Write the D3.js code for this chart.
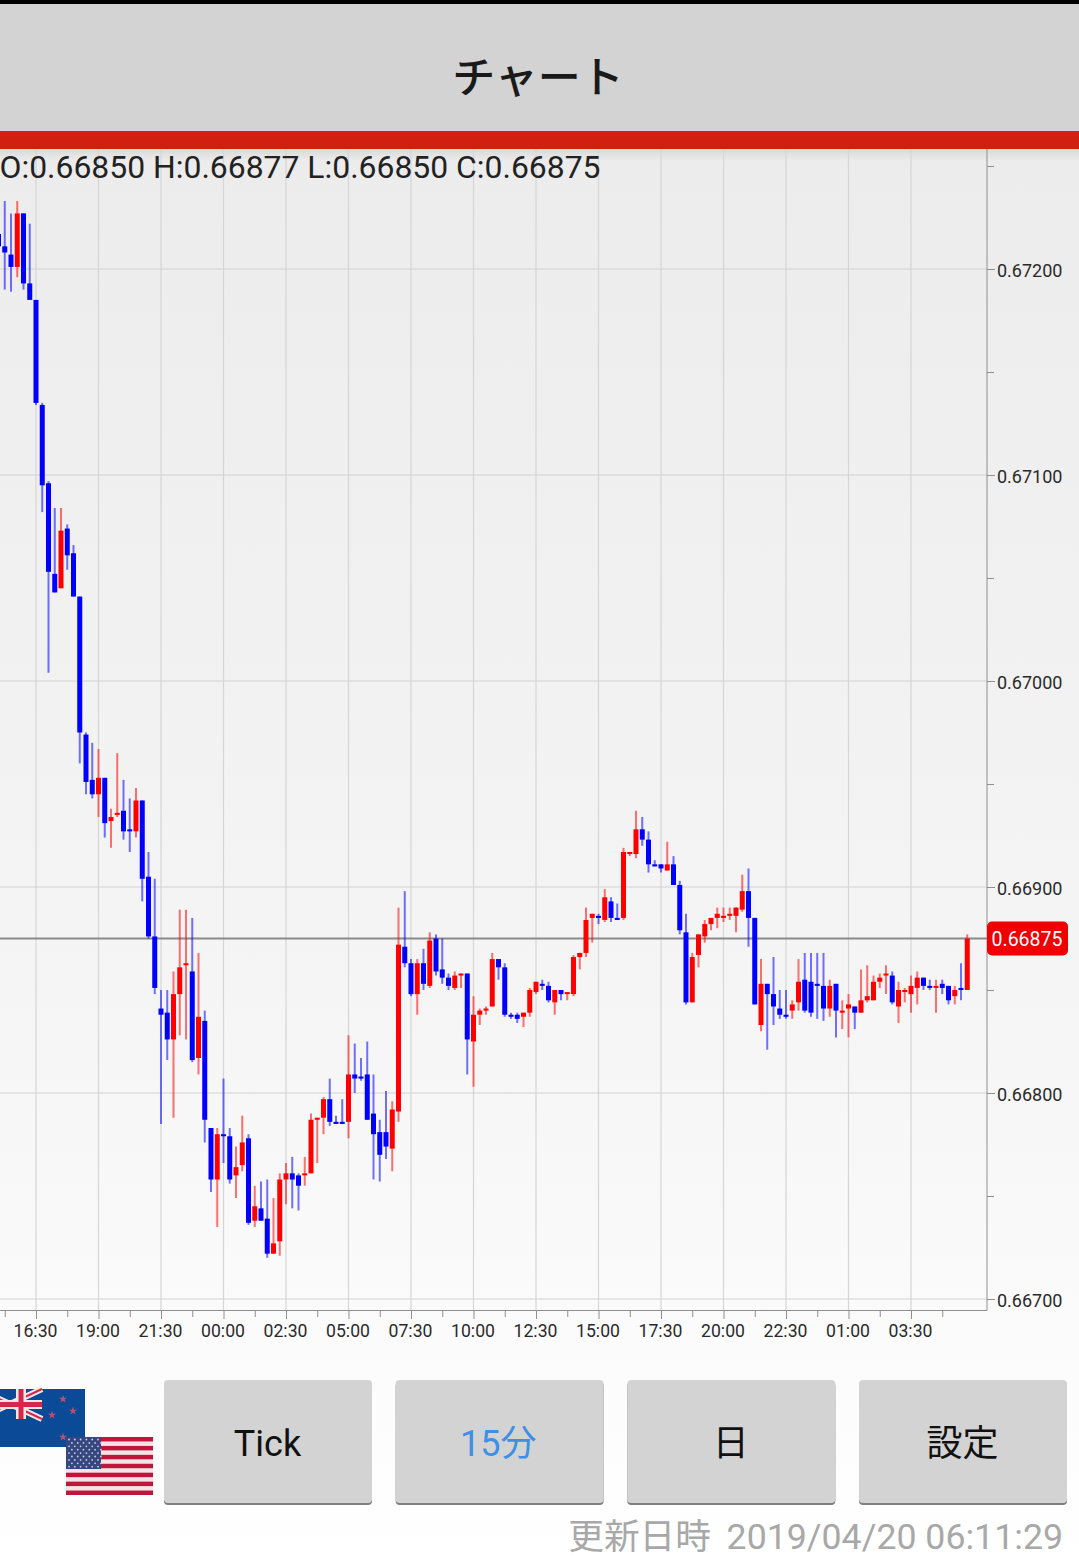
<!DOCTYPE html>
<html>
<head>
<meta charset="utf-8">
<script src="https://cdn.jsdelivr.net/npm/d3@7"></script>
<style>
  html, body { margin: 0; padding: 0; background: #fff; }
  svg { display: block; }
  text { font-family: Roboto, "Noto Sans CJK JP", sans-serif; }
  .jp { font-family: "Noto Sans CJK JP", Roboto, sans-serif; }
</style>
</head>
<body>
<div id="chart"></div>
<script>
// prices are kept in 1/100000 units, one entry per 15 minute candle
const opens = [
  67217,67211,67207,67201,67227,67193,
  67185,67134,67096,67052,67045,67074,67062,67041,
  66974,66952,66945,66953,66932,66935,66937,66928,
  66927,66942,66905,66876,66841,66839,66826,66848,
  66862,66859,66817,66835,66783,66758,66780,66779,
  66760,66765,66778,66738,66744,66739,66722,66728,
  66758,66761,66760,66760,66761,66787,66788,66797,
  66786,66786,66786,66809,66808,66809,66790,66781,
  66781,66773,66791,66871,66863,66848,66863,66852,
  66875,66860,66856,66851,66857,66858,66825,66838,
  66840,66842,66865,66861,66838,66838,66837,66839,
  66849,66853,66852,66844,66850,66848,66848,66866,
  66868,66885,66886,66884,66893,66885,66885,66916,
  66916,66928,66923,66911,66911,66908,66911,66901,
  66878,66844,66867,66876,66882,66885,66885,66886,
  66886,66889,66898,66885,66833,66853,66848,66841,
  66838,66840,66844,66855,66854,66853,66852,66841,
  66853,66839,66841,66842,66839,66845,66845,66854,
  66857,66857,66842,66849,66848,66851,66856,66852,
  66851,66853,66852,66847,66851,66850
];
const closes = [
  67211,67208,67201,67227,67193,67185,
  67135,67095,67053,67043,67073,67061,67041,66975,
  66951,66945,66953,66931,66934,66936,66927,66927,
  66942,66904,66876,66851,66838,66826,66848,66861,
  66863,66816,66837,66787,66758,66780,66779,66758,
  66764,66776,66737,66745,66738,66722,66727,66758,
  66761,66758,66755,66761,66787,66788,66797,66786,
  66785,66785,66809,66807,66807,66787,66780,66770,
  66774,66792,66872,66863,66848,66863,66853,66874,
  66859,66856,66852,66857,66858,66826,66838,66840,
  66841,66865,66861,66838,66837,66836,66839,66850,
  66854,66852,66845,66850,66848,66849,66866,66868,
  66884,66887,66885,66895,66885,66884,66917,66917,
  66928,66923,66911,66910,66909,66911,66901,66879,
  66844,66866,66877,66882,66885,66887,66886,66887,
  66890,66898,66885,66843,66853,66848,66842,66838,
  66837,66843,66854,66840,66839,66852,66841,66852,
  66840,66840,66843,66839,66845,66847,66854,66856,
  66858,66844,66850,66850,66852,66856,66852,66851,
  66852,66851,66845,66850,66850,66875
];
const highs = [
  67222,67233,67227,67233,67227,67222,
  67185,67135,67097,67084,67084,67076,67066,67041,
  66975,66970,66967,66953,66938,66965,66952,66943,
  66948,66942,66917,66904,66850,66850,66859,66889,
  66889,66885,66868,66840,66783,66783,66807,66783,
  66774,66789,66780,66755,66757,66758,66749,66761,
  66766,66769,66761,66769,66790,66788,66798,66807,
  66789,66797,66828,66824,66817,66825,66809,66787,
  66801,66796,66890,66898,66865,66865,66870,66878,
  66877,66875,66858,66859,66858,66858,66847,66841,
  66842,66868,66865,66863,66839,66839,66839,66851,
  66854,66855,66854,66850,66850,66849,66867,66868,
  66890,66887,66887,66899,66895,66892,66919,66917,
  66937,66934,66927,66913,66911,66922,66915,66903,
  66887,66868,66877,66884,66885,66890,66890,66890,
  66890,66906,66909,66885,66865,66853,66866,66850,
  66850,66845,66865,66868,66868,66868,66868,66855,
  66853,66845,66848,66842,66860,66862,66857,66858,
  66862,66859,66854,66851,66857,66859,66856,66855,
  66855,66855,66852,66852,66863,66877
];
const lows = [
  67205,67190,67189,67196,67190,67185,
  67134,67082,67004,67043,67045,67054,67041,66960,
  66945,66943,66934,66924,66919,66934,66923,66917,
  66924,66893,66875,66848,66785,66816,66788,66828,
  66826,66815,66809,66776,66752,66735,66766,66756,
  66749,66762,66736,66735,66738,66720,66722,66721,
  66746,66744,66743,66755,66761,66766,66780,66784,
  66785,66785,66778,66800,66806,66787,66758,66757,
  66768,66762,66786,66861,66847,66838,66850,66851,
  66857,66853,66850,66850,66851,66809,66803,66833,
  66838,66842,66855,66837,66836,66834,66832,66837,
  66848,66850,66844,66838,66845,66845,66847,66860,
  66866,66873,66882,66883,66883,66884,66884,66915,
  66914,66920,66907,66910,66907,66908,66901,66877,
  66843,66844,66861,66873,66879,66880,66883,66884,
  66878,66888,66871,66843,66830,66821,66833,66836,
  66836,66836,66840,66839,66837,66836,66835,66837,
  66827,66831,66827,66831,66839,66844,66845,66851,
  66848,66843,66834,66844,66839,66843,66850,66850,
  66839,66848,66843,66843,66845,66850
];

const timeLabels = ['16:30','19:00','21:30','00:00','02:30','05:00','07:30','10:00','12:30','15:00','17:30','20:00','22:30','01:00','03:30'];
const priceTicks = [66700, 66800, 66900, 67000, 67100, 67200];
const minorPriceTicks = [66750, 66850, 66950, 67050, 67150, 67250];
const buttonLabels = ['Tick', '15分', '日', '設定'];
const infoLine = 'O:0.66850 H:0.66877 L:0.66850 C:0.66875';
const updatedLabel = '更新日時';
const updatedTime = '2019/04/20 06:11:29';

const width = 1079;
const height = 1563;
const plot = { left: 0, right: 987, top: 149, bottom: 1310.5 };
const firstLabelIndex = 6;
const labelStep = 10;
const lastPrice = closes[closes.length - 1];

const svg = d3.select('#chart').append('svg')
    .attr('width', width)
    .attr('height', height)
    .attr('viewBox', `0 0 ${width} ${height}`);

const defs = svg.append('defs');
const bg = defs.append('linearGradient').attr('id', 'bg').attr('x1', 0).attr('x2', 0).attr('y1', 0).attr('y2', 1);
bg.append('stop').attr('offset', '0%').attr('stop-color', '#ececec');
bg.append('stop').attr('offset', '60%').attr('stop-color', '#f5f5f5');
bg.append('stop').attr('offset', '100%').attr('stop-color', '#ffffff');
const shade = defs.append('linearGradient').attr('id', 'shade').attr('x1', 0).attr('x2', 0).attr('y1', 0).attr('y2', 1);
shade.append('stop').attr('offset', '0%').attr('stop-color', '#000').attr('stop-opacity', 0.08);
shade.append('stop').attr('offset', '100%').attr('stop-color', '#000').attr('stop-opacity', 0);

const indexes = d3.range(opens.length);
const xScale = d3.scaleLinear().domain([0, opens.length - 1]).range([-1.5, 967.25]);
const yScale = d3.scaleLinear().domain([66700, 67200]).range([1299, 269]);
const majorIndexes = timeLabels.map((_, k) => firstLabelIndex + labelStep * k);
const minorIndexes = d3.range(1, opens.length + 1, labelStep);

// page background and title bar
svg.append('rect').attr('y', 149).attr('width', width).attr('height', height - 149).attr('fill', 'url(#bg)');
svg.append('rect').attr('width', width).attr('height', 4).attr('fill', '#000');
svg.append('rect').attr('y', 4).attr('width', width).attr('height', 127).attr('fill', '#d3d3d3');
svg.append('rect').attr('y', 131).attr('width', width).attr('height', 18).attr('fill', '#d1200f');
svg.append('rect').attr('y', 149).attr('width', width).attr('height', 12).attr('fill', 'url(#shade)');
svg.append('text').attr('class', 'jp')
    .attr('x', 538).attr('y', 93)
    .attr('text-anchor', 'middle')
    .attr('font-size', 43)
    .attr('font-weight', 500)
    .attr('fill', '#1a1a1a')
    .text('チャート');

// grid
const grid = svg.append('g').attr('class', 'grid');
grid.selectAll('.v').data(majorIndexes).enter().append('line')
    .attr('x1', d => xScale(d)).attr('x2', d => xScale(d))
    .attr('y1', plot.top).attr('y2', plot.bottom)
    .attr('stroke', '#d6d6d6').attr('stroke-width', 1.2);
grid.selectAll('.h').data(priceTicks).enter().append('line')
    .attr('x1', plot.left).attr('x2', plot.right)
    .attr('y1', d => yScale(d)).attr('y2', d => yScale(d))
    .attr('stroke', '#d2d2d2').attr('stroke-width', 1);

// axes
const axisColor = '#8f8f8f';
const bottomAxis = svg.append('g').attr('transform', `translate(0, ${plot.bottom})`)
    .call(d3.axisBottom(xScale)
        .tickValues(majorIndexes)
        .tickSize(8.5)
        .tickPadding(6)
        .tickFormat((d, i) => timeLabels[i]));
const minorBottom = svg.append('g').attr('transform', `translate(0, ${plot.bottom})`)
    .call(d3.axisBottom(xScale).tickValues(minorIndexes).tickSize(6.5).tickFormat(''));
const rightAxis = svg.append('g').attr('transform', `translate(${plot.right}, 0)`)
    .call(d3.axisRight(yScale)
        .tickValues(priceTicks)
        .tickSize(8)
        .tickPadding(2)
        .tickFormat(d => (d / 100000).toFixed(5)));
const minorRight = svg.append('g').attr('transform', `translate(${plot.right}, 0)`)
    .call(d3.axisRight(yScale).tickValues(minorPriceTicks).tickSize(7).tickFormat(''));

[bottomAxis, minorBottom, rightAxis, minorRight].forEach(a => {
    a.selectAll('.domain').remove();
    a.selectAll('line').attr('stroke', axisColor).attr('stroke-width', 1);
    a.selectAll('text').attr('font-family', 'Roboto').attr('fill', '#2a2a2a');
});
bottomAxis.selectAll('text').attr('font-size', 17.6).attr('dx', -1);
rightAxis.selectAll('text').attr('font-size', 18).attr('dy', '0.4em');
svg.append('line').attr('x1', plot.left).attr('x2', plot.right)
    .attr('y1', plot.bottom).attr('y2', plot.bottom)
    .attr('stroke', axisColor).attr('stroke-width', 1);
svg.append('line').attr('x1', plot.right).attr('x2', plot.right)
    .attr('y1', plot.top).attr('y2', plot.bottom)
    .attr('stroke', axisColor).attr('stroke-width', 1);

// last price line sits under the candles
svg.append('line')
    .attr('x1', plot.left).attr('x2', plot.right)
    .attr('y1', yScale(lastPrice)).attr('y2', yScale(lastPrice))
    .attr('stroke', '#8a8a8a').attr('stroke-width', 2);

// candles
const candleColor = i => closes[i] > opens[i] ? '#ff0000' : '#0000ff';
const candles = svg.append('g').attr('class', 'candles');
candles.selectAll('.wick').data(indexes).enter().append('line')
    .attr('class', 'wick')
    .attr('x1', i => xScale(i)).attr('x2', i => xScale(i))
    .attr('y1', i => yScale(highs[i])).attr('y2', i => yScale(lows[i]))
    .attr('stroke', candleColor)
    .attr('stroke-width', 2)
    .attr('stroke-opacity', 0.55);
candles.selectAll('.body').data(indexes).enter().append('rect')
    .attr('class', 'body')
    .attr('x', i => xScale(i) - 2.5)
    .attr('width', 5)
    .attr('y', i => yScale(Math.max(opens[i], closes[i])))
    .attr('height', i => Math.max(1.5, Math.abs(yScale(opens[i]) - yScale(closes[i]))))
    .attr('fill', candleColor);

// last price tag
const tag = svg.append('g').attr('transform', `translate(${plot.right}, ${yScale(lastPrice)})`);
tag.append('rect').attr('x', 0).attr('y', -17).attr('width', 81).attr('height', 34).attr('rx', 5).attr('fill', '#f00000');
tag.append('text').attr('x', 40).attr('y', 7).attr('text-anchor', 'middle')
    .attr('font-size', 19.5).attr('fill', '#fff')
    .text((lastPrice / 100000).toFixed(5));

svg.append('text').attr('x', -0.5).attr('y', 178)
    .attr('font-size', 31.9).attr('fill', '#222')
    .text(infoLine);

// flags
const nz = svg.append('g').attr('class', 'flag-nz');
nz.append('rect').attr('x', 0).attr('y', 1389).attr('width', 85).attr('height', 58).attr('fill', '#0a4a96');
const jack = nz.append('g');
[[-22, 1389, 42, 1419], [-22, 1419, 42, 1389]].forEach(p => {
    jack.append('line').attr('x1', p[0]).attr('y1', p[1]).attr('x2', p[2]).attr('y2', p[3]).attr('stroke', '#f3e6ea').attr('stroke-width', 6);
    jack.append('line').attr('x1', p[0]).attr('y1', p[1]).attr('x2', p[2]).attr('y2', p[3]).attr('stroke', '#d8264a').attr('stroke-width', 2);
});
jack.append('rect').attr('x', 0).attr('y', 1400).attr('width', 42).attr('height', 9).attr('fill', '#f3e6ea');
jack.append('rect').attr('x', 16).attr('y', 1389).attr('width', 10).attr('height', 30).attr('fill', '#f3e6ea');
jack.append('rect').attr('x', 0).attr('y', 1402).attr('width', 42).attr('height', 5).attr('fill', '#d8264a');
jack.append('rect').attr('x', 18.5).attr('y', 1389).attr('width', 5).attr('height', 30).attr('fill', '#d8264a');
[[63, 1399], [73, 1411], [52, 1415], [63, 1437]].forEach(p => {
    nz.append('path').attr('transform', `translate(${p[0]}, ${p[1]})`)
        .attr('d', d3.symbol(d3.symbolStar, 22)).attr('fill', '#b8506e');
});
const us = svg.append('g').attr('class', 'flag-us');
us.append('rect').attr('x', 66).attr('y', 1437).attr('width', 87).attr('height', 58).attr('fill', '#f5e3e6');
d3.range(0, 13, 2).forEach(k => {
    us.append('rect').attr('x', 66).attr('y', 1437 + k * 58 / 13).attr('width', 87).attr('height', 58 / 13).attr('fill', '#c0163c');
});
us.append('rect').attr('x', 66).attr('y', 1437).attr('width', 35).attr('height', 32).attr('fill', '#34477f');
d3.range(0, 9).forEach(row => {
    d3.range(0, 6).forEach(col => {
        us.append('circle')
            .attr('cx', 69 + col * 5.8 + (row % 2) * 2.9)
            .attr('cy', 1439.5 + row * 3.4)
            .attr('r', 0.9)
            .attr('fill', '#c9cde0');
    });
});

// buttons
const buttonX = d3.scalePoint().domain(buttonLabels).range([164, 859]);
const buttons = svg.selectAll('.button').data(buttonLabels).enter().append('g')
    .attr('class', 'button')
    .attr('transform', d => `translate(${buttonX(d)}, 1380)`);
buttons.append('rect').attr('y', 2).attr('width', 208).attr('height', 123).attr('rx', 4).attr('fill', '#7f7f7f');
buttons.append('rect').attr('width', 208).attr('height', 123).attr('rx', 4).attr('fill', '#d3d3d3');
buttons.append('text')
    .attr('x', d => d === '15分' ? 102.5 : 103.5).attr('y', 76)
    .attr('text-anchor', 'middle')
    .attr('font-size', 36)
    .attr('fill', d => d === '15分' ? '#3f8fe6' : '#111')
    .text(d => d);

svg.append('text')
    .attr('x', 711).attr('y', 1549)
    .attr('text-anchor', 'end')
    .attr('font-size', 35.7)
    .attr('fill', '#a8a8a8')
    .text(updatedLabel);
svg.append('text')
    .attr('x', 1063).attr('y', 1549)
    .attr('text-anchor', 'end')
    .attr('font-size', 35.7)
    .attr('fill', '#a8a8a8')
    .text(updatedTime);
</script>
</body>
</html>
